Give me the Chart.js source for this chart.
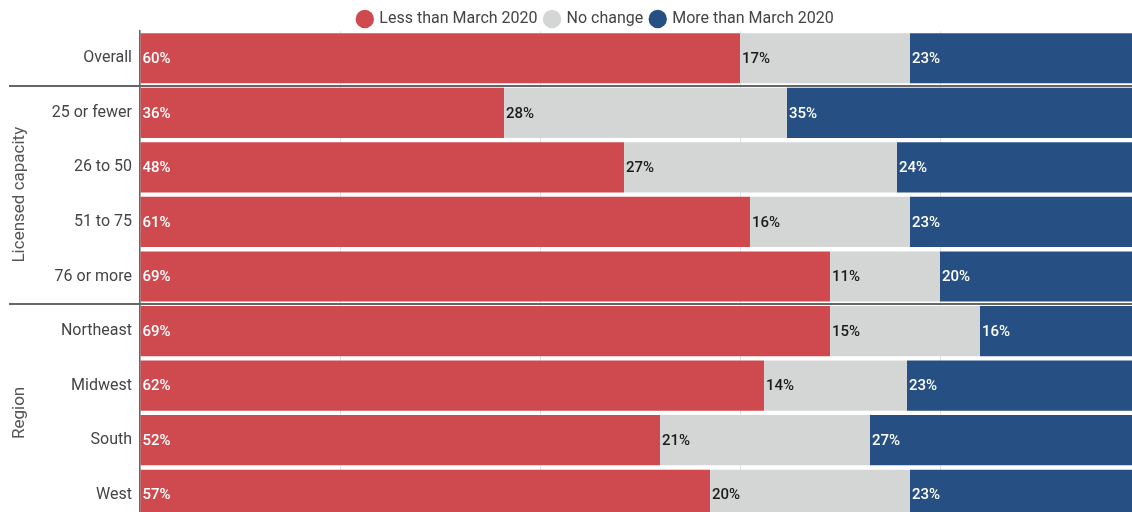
<!DOCTYPE html>
<html lang="en">
<head>
    <meta charset="UTF-8">
    <title>Enrollment compared with March 2020</title>
    <script src="https://cdn.jsdelivr.net/npm/chart.js"></script>
    <style>
        html, body {
            margin: 0;
            padding: 0;
            overflow: hidden;
            background: #fff;
            font-family: Roboto, Arial, sans-serif;
        }
        canvas {
            display: block;
        }
    </style>
</head>
<body>
    <canvas id="enrollChart" width="1140" height="522"></canvas>

    <script>
        // Categories and series (percent of programs)
        const categories = ['Overall', '25 or fewer', '26 to 50', '51 to 75', '76 or more', 'Northeast', 'Midwest', 'South', 'West'];
        const lessThan = [60, 36.4, 48.4, 61, 69, 69, 62.4, 52, 57];
        const noChange = [17, 28.3, 27.3, 16, 11, 15, 14.3, 21, 20];
        const moreThan = [23, 35.3, 24.3, 23, 20, 16, 23.3, 27, 23];

        // Row groups shown on the far left
        const groupNames = ['Licensed capacity', 'Region'];
        const groupFirst = [1, 5];
        const groupLast = [4, 8];

        // keep the legend strip short and nudge it like the original
        const legendTweak = {
            id: 'legendTweak',
            beforeInit(chart) {
                const fit = chart.legend.fit;
                chart.legend.fit = function () {
                    fit.bind(chart.legend)();
                    this.height = 31;
                };
            },
            afterLayout(chart) {
                const lg = chart.legend;
                lg.left += 26;
                lg.right += 26;
                lg.top += 3;
                lg.bottom += 3;
            }
        };

        // Labels at the start of every segment
        const segmentLabels = {
            id: 'segmentLabels',
            afterDatasetsDraw(chart) {
                const ctx = chart.ctx;
                ctx.save();
                ctx.font = '500 15px Roboto, Arial, sans-serif';
                ctx.textBaseline = 'middle';
                ctx.textAlign = 'left';
                chart.data.datasets.forEach((ds, i) => {
                    chart.getDatasetMeta(i).data.forEach((bar, j) => {
                        ctx.fillStyle = ds.labelColor;
                        const left = Math.min(bar.x, bar.base);
                        ctx.fillText(Math.round(ds.data[j]) + '%', left + 2, bar.y + 1);
                    });
                });
                ctx.restore();
            }
        };

        // Group separators and rotated group titles
        const groupMarks = {
            id: 'groupMarks',
            afterDraw(chart) {
                const ctx = chart.ctx;
                const y = chart.scales.y;
                const band = (y.getPixelForValue(1) - y.getPixelForValue(0));
                ctx.save();
                ctx.strokeStyle = '#666';
                ctx.lineWidth = 2;
                groupFirst.forEach(first => {
                    const yy = Math.round(y.getPixelForValue(first) - band / 2);
                    ctx.beginPath();
                    ctx.moveTo(9, yy);
                    ctx.lineTo(chart.width, yy);
                    ctx.stroke();
                });
                ctx.fillStyle = '#555';
                ctx.font = '17px Roboto, Arial, sans-serif';
                ctx.textAlign = 'center';
                ctx.textBaseline = 'middle';
                groupNames.forEach((name, k) => {
                    const top = y.getPixelForValue(groupFirst[k]) - band / 2;
                    const bottom = y.getPixelForValue(groupLast[k]) + band / 2;
                    ctx.save();
                    ctx.translate(20, (top + bottom) / 2);
                    ctx.rotate(-Math.PI / 2);
                    ctx.fillText(name, 0, 0);
                    ctx.restore();
                });
                ctx.restore();
            }
        };

        const ctx = document.getElementById('enrollChart').getContext('2d');
        new Chart(ctx, {
            type: 'bar',
            data: {
                labels: categories,
                datasets: [
                    { label: 'Less than March 2020', data: lessThan, backgroundColor: '#cf4a4f', labelColor: '#ffffff' },
                    { label: 'No change', data: noChange, backgroundColor: '#d3d6d5', labelColor: '#1a1a1a' },
                    { label: 'More than March 2020', data: moreThan, backgroundColor: '#265083', labelColor: '#ffffff' }
                ]
            },
            options: {
                indexAxis: 'y',
                responsive: false,
                animation: false,
                layout: { padding: 0 },
                datasets: {
                    bar: { barPercentage: 0.92, categoryPercentage: 1, borderWidth: 0 }
                },
                plugins: {
                    legend: {
                        position: 'top',
                        labels: {
                            usePointStyle: true,
                            pointStyle: 'circle',
                            boxWidth: 13,
                            boxHeight: 13,
                            padding: 8,
                            color: '#444',
                            font: { family: 'Roboto', size: 16 }
                        }
                    },
                    tooltip: { enabled: false }
                },
                scales: {
                    x: {
                        stacked: true,
                        min: 0,
                        max: 100,
                        afterFit(scale) { scale.height = 0; },
                        ticks: { display: false, stepSize: 20 },
                        grid: { color: '#e2e2e2', drawTicks: false },
                        border: { display: false }
                    },
                    y: {
                        stacked: true,
                        afterFit(scale) {
                            scale.width = 140;
                            scale.paddingTop = 0;
                            scale.paddingBottom = 0;
                        },
                        ticks: { color: '#444', padding: 8, font: { family: 'Roboto', size: 16 } },
                        grid: { display: false, drawTicks: false },
                        border: { color: '#666', width: 1.5 }
                    }
                }
            },
            plugins: [legendTweak, segmentLabels, groupMarks]
        });
    </script>
</body>
</html>
